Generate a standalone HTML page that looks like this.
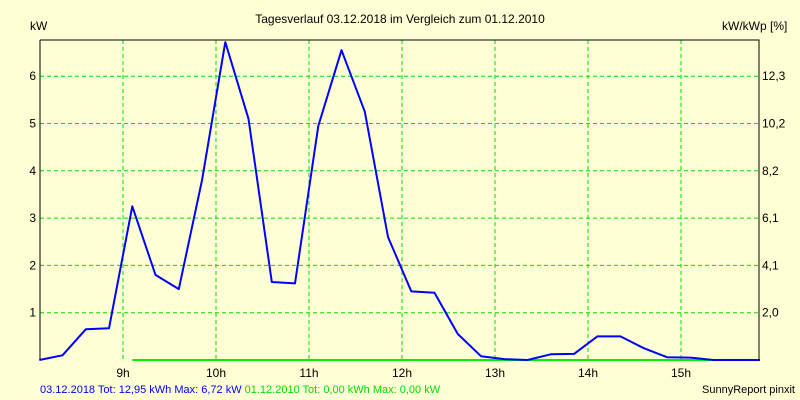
<!DOCTYPE html>
<html><head><meta charset="utf-8"><style>
body{margin:0;background:#ffffd6;}
svg{display:block;font-family:"Liberation Sans",sans-serif;}
</style></head><body>
<svg id="chart" width="800" height="400" viewBox="0 0 800 400">
<rect x="0" y="0" width="800" height="400" fill="#ffffd6"/>
<text x="400" y="23" font-size="12" text-anchor="middle">Tagesverlauf 03.12.2018 im Vergleich zum 01.12.2010</text>
<text x="30" y="30" font-size="12">kW</text>
<text x="722" y="30" font-size="12">kW/kWp [%]</text>
<g id="grid"></g>
<g id="series"></g>
<g id="axes"></g>
<text x="40" y="393" font-size="11"><tspan fill="#0000ff">03.12.2018 Tot: 12,95 kWh Max: 6,72 kW </tspan><tspan fill="#00dd00">01.12.2010 Tot: 0,00 kWh Max: 0,00 kW</tspan></text>
<text x="795" y="393" font-size="11" text-anchor="end">SunnyReport pinxit</text>
</svg>
<script>
const hourTicks = [9,10,11,12,13,14,15];
const leftTicks = [1,2,3,4,5,6];
const rightTickLabels = ["2,0","4,1","6,1","8,2","10,2","12,3"];
const startTime = 8.1;
const stepHours = 0.25;
const series2018 = [0,0.1,0.65,0.67,3.25,1.8,1.5,3.8,6.72,5.1,1.65,1.62,4.95,6.55,5.25,2.6,1.45,1.42,0.55,0.08,0.02,0,0.12,0.13,0.5,0.5,0.25,0.06,0.05,0,0,0];
const series2010Start = 9.1;
const series2010End = 15.35;
const series2010Value = 0;

const L=40,R=759,T=40,B=360;
const xs=t=>123+(t-9)*93;
const ys=v=>B-v*47.3;
const NS="http://www.w3.org/2000/svg";
function mk(tag,attrs,parent){const e=document.createElementNS(NS,tag);for(const k in attrs)e.setAttribute(k,attrs[k]);parent.appendChild(e);return e;}
const grid=document.getElementById('grid'),series=document.getElementById('series'),axes=document.getElementById('axes');
hourTicks.forEach(h=>{
  const l=mk('line',{x1:xs(h),x2:xs(h),y1:T,y2:B,stroke:'#00dd00','stroke-dasharray':'4,3'},grid);
  
  
  const t=mk('text',{x:xs(h),y:377,'font-size':12,'text-anchor':'middle'},axes);
  t.textContent=h+'h';
  
  
});
leftTicks.forEach((v,i)=>{
  const l=mk('line',{x1:L,x2:R,y1:ys(v),y2:ys(v),stroke:'#00dd00','stroke-dasharray':'4,3'},grid);
  
  
  const t=mk('text',{x:36,y:ys(v)+4,'font-size':12,'text-anchor':'end'},axes);
  t.textContent=v;
  
  
  const t2=mk('text',{x:762,y:ys(v)+4,'font-size':12},axes);
  t2.textContent=rightTickLabels[i];
  
  
});
const g=mk('line',{x1:xs(series2010Start),x2:xs(series2010End),y1:ys(series2010Value),y2:ys(series2010Value),stroke:'#00ee00','stroke-width':2},series);


const pts=series2018.map((v,i)=>xs(startTime+i*stepHours).toFixed(1)+','+ys(v).toFixed(1)).join(' ');
const p=mk('polyline',{points:pts,fill:'none',stroke:'#0000ff','stroke-width':2,'stroke-linejoin':'round'},series);


const ax=mk('path',{d:`M${L},${T}H${R}V${B}M${L},${T}V${B}`,fill:'none',stroke:'#000','stroke-width':1},axes);


</script>
</body></html>
